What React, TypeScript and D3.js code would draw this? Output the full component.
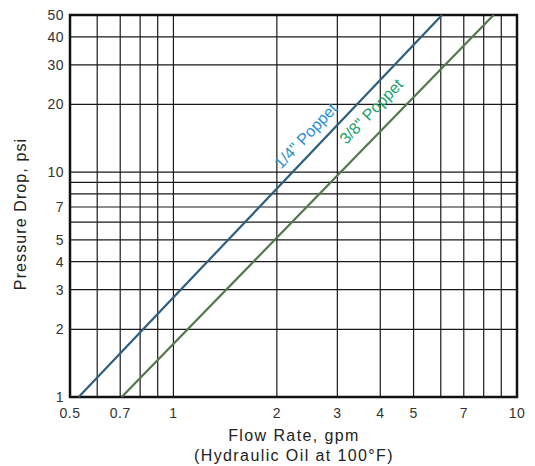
import * as d3 from 'd3'

// flow rate (gpm) ticks and pressure drop (psi) ticks
const xGrid = [0.5, 0.6, 0.7, 0.8, 0.9, 1, 2, 3, 4, 5, 6, 7, 8, 9, 10]
const xTickLabels = [0.5, 0.7, 1, 2, 3, 4, 5, 7, 10]
const yGrid = [1, 2, 3, 4, 5, 6, 7, 8, 9, 10, 20, 30, 40, 50]
const yTickLabels = [1, 2, 3, 4, 5, 7, 10, 20, 30, 40, 50]

// straight lines on log-log paper: end points
const poppet14 = [
  { q: 0.53, p: 1 },
  { q: 6.05, p: 50 },
]
const poppet38 = [
  { q: 0.707, p: 1 },
  { q: 8.55, p: 50 },
]

const series = [
  { name: '1/4" Poppet', data: poppet14, line: '#2d5e80', text: '#2a8fd0', labelQ: 2.16, offset: -10 },
  { name: '3/8" Poppet', data: poppet38, line: '#52784c', text: '#19a06b', labelQ: 3.42, offset: -15 },
]

const font = '"Liberation Sans", Arial, Helvetica, sans-serif'

export default function App() {
  const width = 535
  const height = 466
  const margin = { top: 15, right: 18, bottom: 69, left: 70 }

  const x = d3.scaleLog().domain([0.5, 10]).range([margin.left, width - margin.right])
  const y = d3.scaleLog().domain([1, 50]).range([height - margin.bottom, margin.top])

  const line = d3.line<{ q: number; p: number }>()
    .x(d => x(d.q))
    .y(d => y(d.p))

  const [x0, x1] = x.range()
  const [y0, y1] = y.range()

  return (
    <svg
      width={width}
      height={height}
      style={{ position: 'absolute', left: 0, top: 0, background: '#fff' }}
      fontFamily={font}
    >
      {/* grid */}
      <g stroke="#1a1a1a" strokeWidth={1.2}>
        {xGrid.map(v => (
          <line key={'x' + v} x1={x(v)} x2={x(v)} y1={y1} y2={y0} />
        ))}
        {yGrid.map(v => (
          <line key={'y' + v} x1={x0} x2={x1} y1={y(v)} y2={y(v)} />
        ))}
      </g>

      {/* frame */}
      <rect x={x0} y={y1} width={x1 - x0} height={y0 - y1} fill="none" stroke="#111" strokeWidth={2.5} />

      {/* series */}
      {series.map(s => {
        const a = s.data[0]
        const b = s.data[s.data.length - 1]
        const angle = (Math.atan2(y(b.p) - y(a.p), x(b.q) - x(a.q)) * 180) / Math.PI
        const slope = Math.log(b.p / a.p) / Math.log(b.q / a.q)
        const lp = a.p * Math.pow(s.labelQ / a.q, slope)
        return (
          <g key={s.name}>
            <path d={line(s.data) ?? ''} fill="none" stroke={s.line} strokeWidth={2.2} />
            <text
              transform={`translate(${x(s.labelQ)},${y(lp)}) rotate(${angle})`}
              dy={s.offset}
              fontSize={16}
              fill={s.text}
            >
              {s.name}
            </text>
          </g>
        )
      })}

      {/* x tick labels */}
      <g fontSize={14} fill="#333" textAnchor="middle" letterSpacing={0.5}>
        {xTickLabels.map(v => (
          <text key={v} x={x(v)} y={y0 + 21}>
            {v}
          </text>
        ))}
      </g>

      {/* y tick labels */}
      <g fontSize={14} fill="#333" textAnchor="end" letterSpacing={0.5}>
        {yTickLabels.map(v => (
          <text key={v} x={x0 - 6} y={y(v)} dy="0.35em">
            {v}
          </text>
        ))}
      </g>

      {/* axis titles */}
      <g fontSize={16} fill="#222" textAnchor="middle">
        <text x={294} y={441} letterSpacing={1.4}>Flow Rate, gpm</text>
        <text x={294} y={461} letterSpacing={1.4}>(Hydraulic Oil at 100°F)</text>
        <text transform={`translate(26,${(y0 + y1) / 2 + 8}) rotate(-90)`} letterSpacing={1.1}>
          Pressure Drop, psi
        </text>
      </g>
    </svg>
  )
}
